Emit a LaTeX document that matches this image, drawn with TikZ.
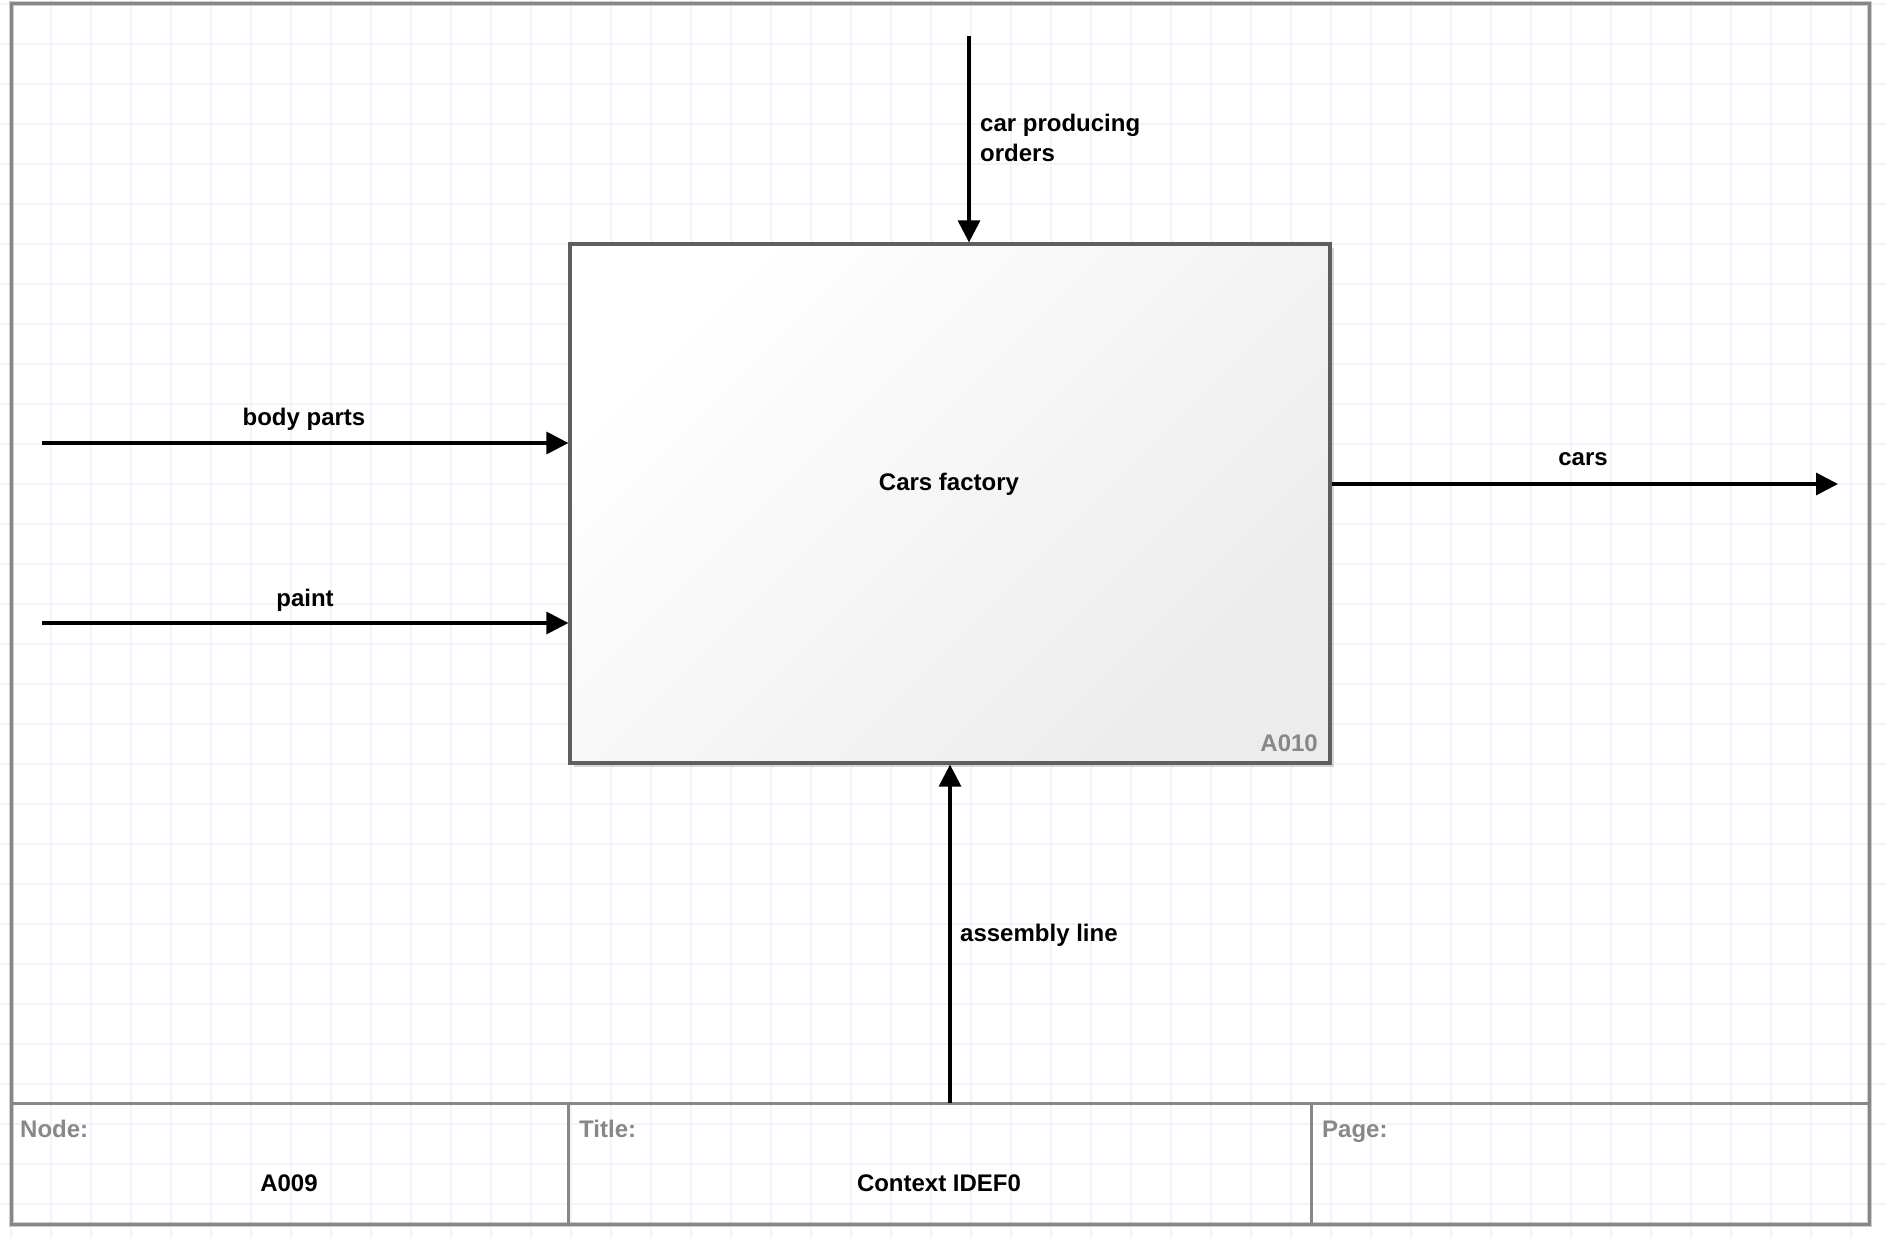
\documentclass[tikz,border=0pt]{standalone}
\usepackage{fontspec}
\setmainfont{Liberation Sans}
\usetikzlibrary{arrows.meta,shadows}
\definecolor{gridc}{RGB}{243,243,252}
\definecolor{framec}{RGB}{135,135,135}
\definecolor{framelight}{RGB}{205,205,205}
\definecolor{boxedge}{RGB}{95,95,95}
\definecolor{boxfill}{RGB}{236,236,236}
\definecolor{labgray}{RGB}{136,136,136}
\begin{document}
\begin{tikzpicture}[x=1pt,y=-1pt,
  lbl/.style={font=\fontsize{24}{30}\selectfont\bfseries, inner sep=0pt},
  graylbl/.style={lbl, text=labgray},
  flow/.style={line width=3.2pt, -{Triangle[length=22pt,width=22pt]}},
  actbox/.style={draw=boxedge, line width=3.2pt, minimum width=760pt, minimum height=519pt,
    inner sep=0pt, shading=axis, top color=white, bottom color=boxfill, shading angle=45,
    drop shadow={shadow xshift=4pt, shadow yshift=-4pt, opacity=.3}},
  tline/.style={framec, line width=3pt}]
\useasboundingbox (0,0) rectangle (1886,1238);
\fill[white] (0,0) rectangle (1886,1238);
% grid
\foreach \x in {11,51,...,1886} \draw[gridc, line width=1.5pt] (\x,0) -- (\x,1238);
\foreach \y in {4,44,...,1238} \draw[gridc, line width=1.5pt] (0,\y) -- (1886,\y);
% frame
\draw[framelight, line width=5pt] (11,4) rectangle (1869,1224);
\draw[tline] (11,4) rectangle (1869,1224);
\draw[tline] (11,1103) -- (1869,1103);
\draw[tline] (568,1103) -- (568,1224);
\draw[tline] (1311,1103) -- (1311,1224);
% activity box
\node[actbox] (box) at (950,503.5) {};
\node[lbl] (boxlbl) at (949,484.5) {Cars factory};
\node[graylbl, anchor=east] (boxid) at (1318,743.5) {A010};
% connector ends
\coordinate (ctrl) at (969,36);
\coordinate (in1) at (42,443);
\coordinate (in2) at (42,623);
\coordinate (out) at (1838,484);
\coordinate (mech) at (950,1103);
% arrows
\draw[flow] (ctrl) -- (ctrl |- box.north);
\draw[flow] (in1) -- (in1 -| box.west);
\draw[flow] (in2) -- (in2 -| box.west);
\draw[flow] (out -| box.east) -- (out);
\draw[flow] (mech) -- (mech |- box.south);
% arrow labels
\node[lbl, anchor=west, align=left] (ctrllbl) at (980,137.5) {car producing\\orders};
\node[lbl] (in1lbl) at (304,419.5) {body parts};
\node[lbl] (in2lbl) at (305,600) {paint};
\node[lbl] (outlbl) at (1583,459.5) {cars};
\node[lbl, anchor=west] (mechlbl) at (960,935.5) {assembly line};
% title block
\node[graylbl, anchor=base west] (nodelbl) at (20,1137) {Node:};
\node[lbl] (nodeval) at (289,1183.5) {A009};
\node[graylbl, anchor=base west] (titlelbl) at (579,1137) {Title:};
\node[lbl] (titleval) at (939,1183.5) {Context IDEF0};
\node[graylbl, anchor=base west] (pagelbl) at (1322,1137) {Page:};
\end{tikzpicture}
\end{document}
